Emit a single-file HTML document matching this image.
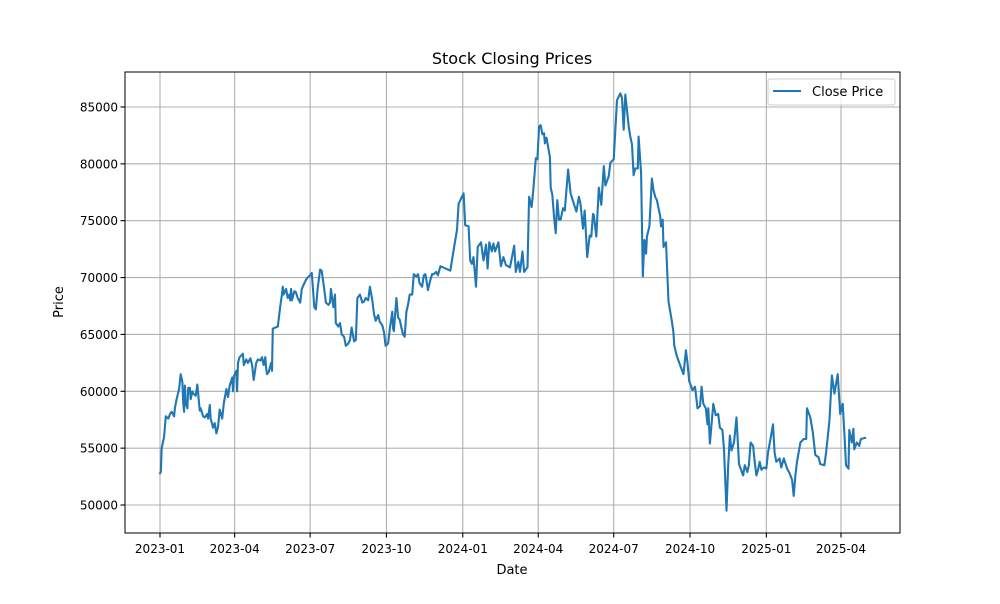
<!DOCTYPE html>
<html><head><meta charset="utf-8"><style>
body{margin:0;background:#fff;font-family:"DejaVu Sans","Liberation Sans",sans-serif}
</style></head><body>
<svg id="chart" width="1000" height="600" xmlns="http://www.w3.org/2000/svg" font-family="DejaVu Sans, Liberation Sans, sans-serif">
<rect width="1000" height="600" fill="#fff"/>
<g id="grid"></g>
<g id="ticks"></g>
<path id="line" fill="none" stroke="#1f77b4" stroke-width="2.1" stroke-linejoin="round" stroke-linecap="square"/>
<rect x="125" y="72" width="775" height="461" fill="none" stroke="#000" stroke-width="1"/>
<text x="512" y="64" font-size="16" text-anchor="middle">Stock Closing Prices</text>
<text x="512" y="574" font-size="13" text-anchor="middle">Date</text>
<text transform="translate(63,302) rotate(-90)" font-size="13" text-anchor="middle">Price</text>
<g>
<rect x="768" y="79" width="127" height="26" fill="#fff" fill-opacity="0.8" stroke="#ccc" rx="2"/>
<line x1="773" y1="91" x2="801" y2="91" stroke="#1f77b4" stroke-width="2.1"/>
<text x="812" y="96" font-size="13">Close Price</text>
</g>
</svg>
<script>
const days=[0,1,2,5,7,10,12,14,17,18,20,23,25,27,28,29,30,31,33,34,36,37,39,40,42,43,45,46,47,48,49,52,54,57,58,60,61,64,66,68,70,72,75,77,80,82,84,87,88,89,92,93,94,96,100,101,104,106,109,111,113,116,118,121,123,125,127,128,129,131,134,135,136,139,142,145,147,148,149,152,154,156,157,158,159,162,164,166,169,171,174,176,178,181,183,186,188,190,193,195,198,200,203,205,206,209,211,212,215,217,219,222,224,227,229,231,234,236,238,241,244,246,248,251,253,256,258,260,263,265,268,270,272,275,277,280,281,282,285,287,289,291,293,295,297,299,301,304,306,309,311,313,316,318,320,322,323,326,328,330,333,335,338,
350,354,358,360,366,368,372,374,376,378,381,383,387,390,393,395,397,400,402,404,408,411,414,417,422,427,429,432,434,437,439,443,445,448,450,453,455,457,459,461,463,464,466,470,471,473,475,477,479,481,483,486,488,492,495,498,502,505,507,510,512,515,518,520,522,523,526,529,532,535,537,541,543,547,551,555,557,559,561,565,567,569,571,573,576,577,580,582,584,586,587,590,593,595,597,599,603,604,606,607,610,613,617,
619,620,623,627,631,632,634,636,638,642,645,648,651,653,655,658,660,661,663,667,670,673,675,678,680,683,685,687,689,692,695,698,703,705,708,710,712,715,717,719,721,723,725,728,731,733,736,739,741,743,747,749,752,756,759,762,764,766,768,772,776,779,780,784,787,790,794,796,801,803,807,810,813,817,820,823,825,827,830,831,834,836,837,840,843,845,850];
const prices=[52.8,52.9,55,56,57.8,57.6,58,58.2,57.8,58.5,59.3,60.2,61.5,60.8,59,58.2,60.5,59,58.5,60.3,60.3,59.3,60,59.8,59.7,59.6,60.6,59.8,59,58.3,58.5,57.8,57.7,58,57.6,58.8,57.6,56.8,57.2,56.3,56.9,58.4,57.6,59,60.2,59.5,60.5,61.2,60,61.3,61.8,60,62.5,63,63.3,62.3,62.8,62.5,62.9,62.3,61,62.5,62.8,62.7,63,62.3,63,62,61.5,61.7,62.5,61.8,65.5,65.6,65.7,67.5,68.5,69.2,68.5,69,68.2,68.5,68,69,68,68.8,68.7,68.2,67.8,69,69.5,69.8,70,70.2,70.4,67.4,67.2,69,70.7,70.6,69,67.8,67.6,67.8,69,67.4,68.5,66,65.7,66,65,64.8,64,64.2,64.5,65.6,64.4,64.5,68.2,68.5,67.8,67.9,68.2,68,69.2,68,66.8,66.2,66.7,66.1,65.8,65.2,64,64.2,65.5,67,65.5,65.3,68.2,66.5,66.3,65.6,65,64.8,67,67.6,68.5,68.5,70.3,70.1,70.3,69.5,69.2,70.2,70.3,69.4,68.9,69.8,70.3,70.3,70.5,70.2,71,
70.6,72.4,74.2,76.5,77.4,74.6,74.5,71.5,71.2,71.8,69.2,72.7,73.1,71.5,72.9,70.8,73.1,72.3,73,72.3,73.1,71,71.8,71.1,70.9,72.8,70.5,71.4,70.5,72.3,70.5,70.9,77.1,76.2,77.7,80.5,80.4,83.3,83.4,82.6,82.7,81.8,82.3,80.6,77.9,77.3,75.4,73.9,76.8,75.1,75.1,76.1,75.9,79.5,77.4,76.7,75.8,77.1,76.5,74.3,75.9,71.8,73.7,73.6,75.6,75.5,73.6,77.9,76.4,79.8,78.1,78.9,80.1,80.4,85.6,86.2,85.8,83,86.1,83.3,82.4,81.7,79,79.6,79.6,82.4,79.2,70.1,73.3,72.1,73.6,74.5,78.7,77.7,77.1,76.8,75.4,74.5,75.1,72.7,73.1,67.9,66.2,
65.2,64,63.1,62.3,61.5,62.1,63.6,62.5,60.9,60.1,60.4,58.5,58.7,60.4,58.9,58.5,57.1,58.5,55.4,58.9,57.9,58,56.8,56.6,54.9,49.5,53.5,56.1,54.8,55.5,57.7,53.6,52.6,53.5,52.9,53.5,55.5,55.2,53.8,52.6,53.1,53.8,53.1,53.3,53.2,54.6,55.8,57.1,54.6,53.8,54.1,53.3,54.1,53.2,52.8,52.2,50.8,52.6,53.8,55.5,55.8,55.8,58.5,57.7,56.4,54.4,54.2,53.6,53.5,54.6,57.4,61.4,59.8,61.5,58,58.9,56.4,53.5,53.2,56.6,55.5,56.7,54.9,55.5,55.2,55.8,55.9];
const xTickDays=[0,90,181,273,365,456,547,639,731,821];
const xTickLabels=["2023-01","2023-04","2023-07","2023-10","2024-01","2024-04","2024-07","2024-10","2025-01","2025-04"];
const yTicks=[50000,55000,60000,65000,70000,75000,80000,85000];
const X=d=>160+d*(681/821);
const Y=v=>505-(v-50000)*(398/35000);
const NS="http://www.w3.org/2000/svg";
const grid=document.getElementById('grid'),ticks=document.getElementById('ticks');
function mk(tag,attrs,parent){const e=document.createElementNS(NS,tag);for(const k in attrs)e.setAttribute(k,attrs[k]);parent.appendChild(e);return e;}
xTickDays.forEach((d,i)=>{const x=X(d);
 const g=mk('line',{x1:x,x2:x,y1:72,y2:533,stroke:'#b0b0b0','stroke-width':1.1},grid);
 
 
 mk('line',{x1:x,x2:x,y1:533,y2:537.5,stroke:'#000','stroke-width':1.1},ticks);
 const t=mk('text',{x:x,y:553,'font-size':12,'text-anchor':'middle'},ticks);t.textContent=xTickLabels[i];
 
 
});
yTicks.forEach(v=>{const y=Y(v);
 const g=mk('line',{x1:125,x2:900,y1:y,y2:y,stroke:'#b0b0b0','stroke-width':1.1},grid);
 
 
 mk('line',{x1:120.5,x2:125,y1:y,y2:y,stroke:'#000','stroke-width':1.1},ticks);
 const t=mk('text',{x:118,y:y+4.5,'font-size':12,'text-anchor':'end'},ticks);t.textContent=v;
 
 
});
document.getElementById('line').setAttribute('d',days.map((d,i)=>(i?'L':'M')+X(d).toFixed(1)+','+Y(prices[i]*1000).toFixed(1)).join(''));
</script>
</body></html>
